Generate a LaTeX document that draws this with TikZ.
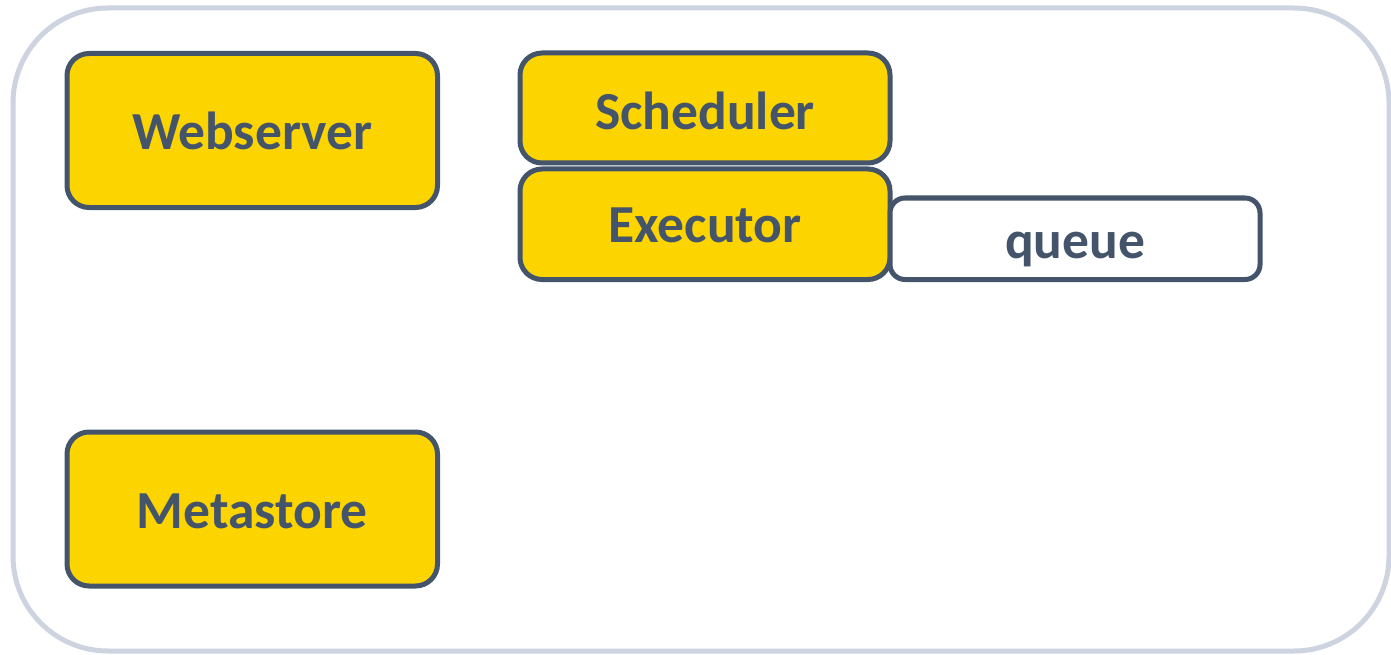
\documentclass[tikz,border=0pt]{standalone}
\usepackage{fontspec}
\setmainfont{Carlito}
\definecolor{boxyellow}{HTML}{FCD400}
\definecolor{boxline}{HTML}{44546A}
\definecolor{frameline}{HTML}{CDD3DF}
\begin{document}
\begin{tikzpicture}[x=1pt,y=-1pt,
  comp/.style={draw=boxline, line width=5pt, rounded corners=22pt, fill=boxyellow,
    text=boxline, font=\bfseries\fontsize{53.5}{60}\selectfont,
    text height=39pt, text depth=0pt, inner sep=0pt, outer sep=0pt},
  qbox/.style={comp, fill=white, rounded corners=15pt}]
\useasboundingbox (0,0) rectangle (1391,655);
\node[draw=frameline, line width=5pt, rounded corners=95pt, minimum width=1376pt, minimum height=643pt, inner sep=0pt] (frame) at (701,329.5) {};
\node[comp, minimum width=370.5pt, minimum height=154pt] (web) at (252.25,130.5) {Webserver};
\node[comp, minimum width=370.5pt, minimum height=154pt] (meta) at (252.25,509) {Metastore};
\node[comp, minimum width=370pt, minimum height=110pt, text height=44pt] (sched) at (705,108) {Scheduler};
\node[comp, minimum width=370pt, minimum height=110.5pt, text height=37pt] (exec) at (705,224.25) {Executor};
\node[qbox, minimum width=370pt, minimum height=81.5pt] (queue) at (1075,238.75) {queue};
\end{tikzpicture}
\end{document}
